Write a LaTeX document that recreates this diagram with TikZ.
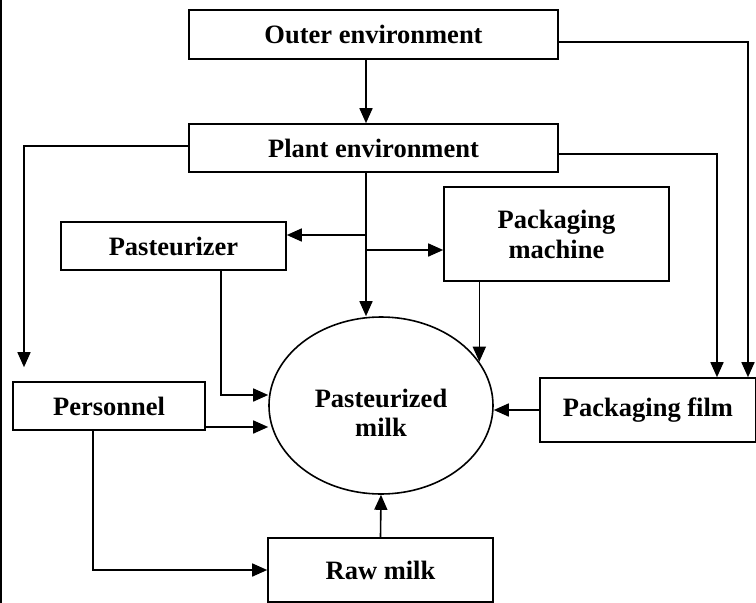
\documentclass[tikz,border=0pt]{standalone}
\usepackage{fontspec}
\setmainfont{Liberation Serif}
\usetikzlibrary{shapes.geometric,arrows.meta}

\begin{document}
\begin{tikzpicture}[x=1pt,y=-1pt,
  box/.style={draw,line width=1.6pt,rectangle,inner sep=0pt,align=center,
    font=\fontsize{26.5}{30}\selectfont\bfseries},
  blob/.style={box,ellipse},
  arr/.style={line width=1.6pt,-{Triangle[length=15pt,width=13pt]}}]
\useasboundingbox (0,0) rectangle (756,603);
\draw[line width=2.5pt] (1.2,0) -- (1.2,603);
\node[box,minimum width=369,minimum height=49] (outer) at (373.5,34.5) {Outer environment};
\node[box,minimum width=369,minimum height=48] (plant) at (373.5,148) {Plant environment};
\node[box,minimum width=225,minimum height=48] (past) at (173.5,246) {Pasteurizer};
\node[box,minimum width=225,minimum height=94] (pack) at (556.5,234) {Packaging\\machine};
\node[box,minimum width=192,minimum height=48] (pers) at (109,406) {Personnel};
\node[blob,minimum width=224,minimum height=177,
  label={[align=center,yshift=-7pt,font=\fontsize{26.5}{29}\selectfont\bfseries]center:Pasteurized\\milk}]
  (milk) at (381,405.5) {};
\node[box,minimum width=225,minimum height=64] (raw) at (380.5,570) {Raw milk};
\node[box,minimum width=216,minimum height=64] (film) at (648,410) {Packaging film};
\coordinate (t) at (366,0);
\coordinate (b1) at (366,235);
\coordinate (b2) at (366,250);
\draw[arr] (outer.south -| t) -- (plant.north -| t);
\draw[arr] (plant.south -| t) -- (t |- milk.north);
\draw[arr] (b1) -- (b1 -| past.east);
\draw[arr] (b2) -- (b2 -| pack.west);
\draw[arr] ([xshift=47.5pt]past.south) |- ([yshift=10.5pt]milk.west);
\draw[arr] ([yshift=-21pt]pers.east) -- ([yshift=-21pt]pers.east -| milk.west);
\draw[arr] ([xshift=-16pt]pers.south) |- (raw.west);
\draw[arr] (raw.north) -- (milk.south);
\draw[arr] (pack.south -| milk.24) -- (milk.24);
\draw[arr] (film.west) -- (film.west -| milk.east);
\draw[arr] ([yshift=-6pt]plant.east) -| ([xshift=69pt]film.north);
\draw[arr] ([yshift=-7.5pt]outer.east) -| ([xshift=100pt]film.north);
\draw[arr] ([yshift=2pt]plant.west) -| ([xshift=-85pt,yshift=14pt]pers.north);
\end{tikzpicture}
\end{document}
